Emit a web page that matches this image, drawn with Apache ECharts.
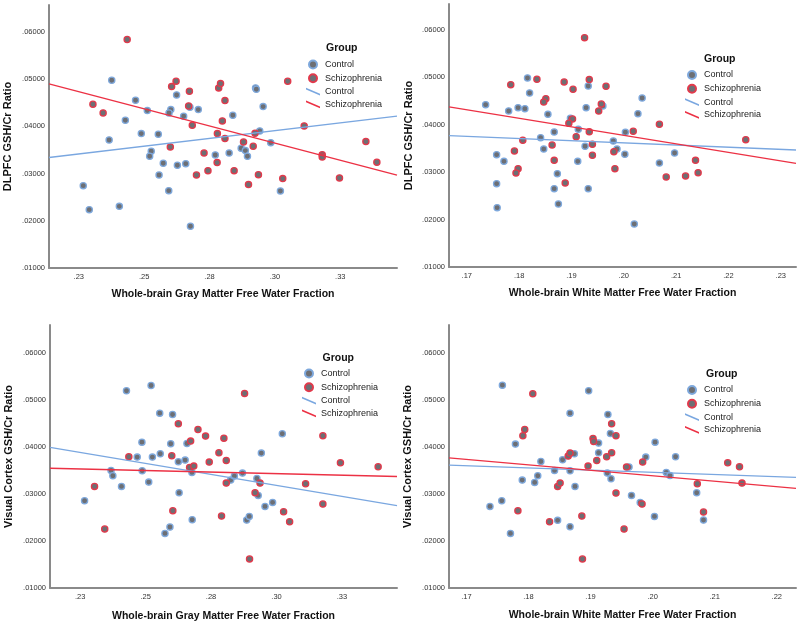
<!DOCTYPE html>
<html><head><meta charset="utf-8">
<script src="https://cdn.jsdelivr.net/npm/echarts@6/dist/echarts.min.js"></script>
<style>html,body{margin:0;padding:0;background:#fff}#c{width:800px;height:624px}</style>
</head><body><div id="c"></div>
<script>
// ---- Tick values and labels ----
const gmTicks = [0.225, 0.25, 0.275, 0.30, 0.325];
const gmTickLabels = ['.23', '.25', '.28', '.30', '.33'];
const wmTicksTop = [0.17, 0.18, 0.19, 0.20, 0.21, 0.22, 0.23];
const wmTickLabelsTop = ['.17', '.18', '.19', '.20', '.21', '.22', '.23'];
const wmTicksBottom = [0.17, 0.18, 0.19, 0.20, 0.21, 0.22];
const wmTickLabelsBottom = ['.17', '.18', '.19', '.20', '.21', '.22'];
const yTicks = [0.01, 0.02, 0.03, 0.04, 0.05, 0.06];
const yTickLabels = ['.01000', '.02000', '.03000', '.04000', '.05000', '.06000'];
const groupNames = ['Control', 'Schizophrenia'];

// ---- Panel 1: Gray matter FW vs DLPFC GSH/Cr ----
const p1Control = [[0.2267,0.02744],[0.2290,0.02236],[0.2376,0.04976],[0.2366,0.03712],[0.2428,0.04129],[0.2405,0.02306],[0.2467,0.04552],[0.2512,0.04333],[0.2489,0.03846],[0.2527,0.03472],[0.2521,0.03366],[0.2554,0.03832],[0.2557,0.0297],[0.2573,0.03218],[0.2594,0.02638],[0.2602,0.04355],[0.2595,0.04284],[0.2624,0.04665],[0.2627,0.03175],[0.2651,0.04213],[0.2659,0.0321],[0.2677,0.01883],[0.2675,0.04404],[0.2707,0.04355],[0.2772,0.03394],[0.2825,0.03436],[0.2839,0.04234],[0.2871,0.03535],[0.2887,0.03486],[0.2895,0.03366],[0.2926,0.04814],[0.2929,0.04785],[0.2942,0.03903],[0.2955,0.04418],[0.2984,0.03655],[0.3021,0.02631]];
const p1Schizo = [[0.2435,0.05838],[0.2304,0.04468],[0.2343,0.04284],[0.2600,0.03564],[0.2605,0.04842],[0.2622,0.04955],[0.2673,0.04743],[0.2670,0.04432],[0.2684,0.04023],[0.2700,0.0297],[0.2729,0.03436],[0.2744,0.03062],[0.2780,0.03846],[0.2779,0.03232],[0.2785,0.04814],[0.2792,0.04905],[0.2799,0.04114],[0.2809,0.04545],[0.2809,0.0374],[0.2844,0.03062],[0.2880,0.03669],[0.2899,0.02766],[0.2917,0.03578],[0.2924,0.03853],[0.2937,0.02977],[0.3030,0.02893],[0.3049,0.04955],[0.3112,0.04008],[0.3181,0.03401],[0.3181,0.03352],[0.3247,0.02907],[0.3348,0.03677],[0.3390,0.03239]];

// ---- Panel 2: White matter FW vs DLPFC GSH/Cr ----
const p2Control = [[0.1736,0.0442],[0.1757,0.03367],[0.1757,0.02756],[0.1758,0.0225],[0.1771,0.03226],[0.1780,0.04287],[0.1798,0.04357],[0.1811,0.04336],[0.1816,0.04982],[0.1820,0.04666],[0.1855,0.04216],[0.1841,0.03725],[0.1847,0.03486],[0.1867,0.03844],[0.1867,0.0265],[0.1873,0.02966],[0.1875,0.02327],[0.1898,0.04132],[0.1913,0.039],[0.1912,0.03226],[0.1926,0.03542],[0.1928,0.04357],[0.1932,0.04813],[0.1932,0.0265],[0.1960,0.04392],[0.1980,0.03654],[0.1987,0.03486],[0.2002,0.03374],[0.2003,0.03837],[0.2020,0.01906],[0.2027,0.0423],[0.2035,0.0456],[0.2068,0.03191],[0.2097,0.03402]];
const p2Schizo = [[0.1925,0.05831],[0.1784,0.04841],[0.1834,0.04954],[0.1886,0.04897],[0.1934,0.04947],[0.1903,0.04743],[0.1966,0.04806],[0.1851,0.04546],[0.1847,0.04476],[0.1957,0.04434],[0.1952,0.04287],[0.1902,0.04118],[0.1895,0.04027],[0.1934,0.03851],[0.1909,0.03746],[0.1807,0.03669],[0.2018,0.03858],[0.2068,0.04006],[0.1863,0.0357],[0.1940,0.03584],[0.1791,0.03444],[0.1981,0.0343],[0.1940,0.03353],[0.1867,0.03247],[0.1798,0.03072],[0.1794,0.0298],[0.1983,0.03072],[0.1888,0.0277],[0.2081,0.02896],[0.2118,0.02917],[0.2137,0.03247],[0.2142,0.02987],[0.2233,0.03683]];

// ---- Panel 3: Gray matter FW vs Visual cortex GSH/Cr ----
const p3Control = [[0.2267,0.02858],[0.2368,0.03504],[0.2375,0.0339],[0.2408,0.03163],[0.2427,0.05199],[0.2468,0.03787],[0.2486,0.04106],[0.2487,0.03496],[0.2512,0.03255],[0.2521,0.05312],[0.2526,0.03787],[0.2554,0.04723],[0.2556,0.03858],[0.2574,0.02163],[0.2593,0.02298],[0.2596,0.04071],[0.2603,0.04695],[0.2625,0.03688],[0.2628,0.03028],[0.2651,0.03723],[0.2658,0.04078],[0.2677,0.03461],[0.2678,0.02454],[0.2825,0.03298],[0.2839,0.03383],[0.2870,0.03447],[0.2886,0.02447],[0.2896,0.02525],[0.2925,0.03333],[0.2930,0.02972],[0.2942,0.03872],[0.2956,0.02738],[0.2985,0.02823],[0.3022,0.04284]];
const p3Schizo = [[0.2305,0.03163],[0.2344,0.02255],[0.2436,0.03794],[0.2600,0.03816],[0.2604,0.02645],[0.2625,0.04496],[0.2672,0.04128],[0.2668,0.03567],[0.2684,0.03596],[0.2700,0.04376],[0.2729,0.04234],[0.2743,0.03681],[0.2780,0.03879],[0.2790,0.02532],[0.2799,0.04191],[0.2808,0.03716],[0.2808,0.03234],[0.2878,0.05142],[0.2897,0.01617],[0.2918,0.03028],[0.2937,0.03234],[0.3027,0.02624],[0.3050,0.02411],[0.3111,0.0322],[0.3177,0.04241],[0.3177,0.02787],[0.3244,0.03667],[0.3388,0.03582]];

// ---- Panel 4: White matter FW vs Visual cortex GSH/Cr ----
const p4Control = [[0.1738,0.02738],[0.1757,0.02858],[0.1758,0.05319],[0.1771,0.02163],[0.1790,0.03298],[0.1779,0.04064],[0.1810,0.03248],[0.1815,0.0339],[0.1820,0.03695],[0.1842,0.03504],[0.1847,0.0244],[0.1855,0.0373],[0.1867,0.04723],[0.1867,0.03496],[0.1867,0.02305],[0.1875,0.03163],[0.1874,0.03858],[0.1897,0.05199],[0.1913,0.04085],[0.1913,0.03879],[0.1927,0.03447],[0.1928,0.04695],[0.1932,0.04291],[0.1933,0.03326],[0.1962,0.03574],[0.1966,0.02972],[0.1980,0.02823],[0.2003,0.02525],[0.2004,0.04106],[0.1989,0.03787],[0.2022,0.03461],[0.2028,0.03397],[0.2037,0.03794],[0.2071,0.03028],[0.2082,0.02447]];
const p4Schizo = [[0.1807,0.05135],[0.1794,0.04376],[0.1791,0.04241],[0.1783,0.02645],[0.1834,0.02411],[0.1847,0.03163],[0.1851,0.03234],[0.1864,0.03809],[0.1867,0.03872],[0.1886,0.02532],[0.1887,0.01617],[0.1896,0.03596],[0.1904,0.04184],[0.1905,0.04121],[0.1910,0.03716],[0.1926,0.03794],[0.1934,0.03879],[0.1934,0.04496],[0.1941,0.04241],[0.1941,0.03021],[0.1954,0.02255],[0.1958,0.03574],[0.1984,0.03681],[0.1983,0.02787],[0.2072,0.0322],[0.2082,0.02617],[0.2121,0.03667],[0.2140,0.03582],[0.2144,0.03234]];

// ---- Styling ----
const FONT = 'Liberation Sans, Arial, sans-serif';
const C_FILL = '#6d6f74';
const C_BLUE = '#7ea8dc';
const C_RED = '#e2394b';
const L_BLUE = '#7aa7e0';
const L_RED = '#ec3144';
const SLANT = 'path://M0,0L14,6L14,7.6L0,1.6Z';

const panels = [
  {grid:{left:49, top:5, width:348, height:263}, xMin:0.2136, xMax:0.3467, yMax:0.0657,
   ticks:gmTicks, tickLabels:gmTickLabels, ctrl:p1Control, scz:p1Schizo,
   xName:'Whole-brain Gray Matter Free Water Fraction', yName:'DLPFC GSH/Cr Ratio',
   xGap:21, yGap:36, groupPos:[326,43], legendPos:[306,59.5]},
  {grid:{left:449, top:4, width:347, height:263}, xMin:0.1666, xMax:0.2329, yMax:0.0654,
   ticks:wmTicksTop, tickLabels:wmTickLabelsTop, ctrl:p2Control, scz:p2Schizo,
   xName:'Whole-brain White Matter Free Water Fraction', yName:'DLPFC GSH/Cr Ratio',
   xGap:21, yGap:35, groupPos:[704,54], legendPos:[685,70]},
  {grid:{left:50, top:325, width:347, height:263}, xMin:0.2135, xMax:0.346, yMax:0.066,
   ticks:gmTicks, tickLabels:gmTickLabels, ctrl:p3Control, scz:p3Schizo,
   xName:'Whole-brain Gray Matter Free Water Fraction', yName:'Visual Cortex GSH/Cr Ratio',
   xGap:23, yGap:36, groupPos:[322.5,352.5], legendPos:[302,368.5]},
  {grid:{left:449, top:325, width:347, height:263}, xMin:0.1672, xMax:0.2231, yMax:0.066,
   ticks:wmTicksBottom, tickLabels:wmTickLabelsBottom, ctrl:p4Control, scz:p4Schizo,
   xName:'Whole-brain White Matter Free Water Fraction', yName:'Visual Cortex GSH/Cr Ratio',
   xGap:22, yGap:36, groupPos:[706,368.5], legendPos:[685,385]}
];

function fitLine(pts, x0, x1) {
  const n = pts.length;
  let sx = 0, sy = 0, sxx = 0, sxy = 0;
  pts.forEach(p => { sx += p[0]; sy += p[1]; sxx += p[0]*p[0]; sxy += p[0]*p[1]; });
  const b = (n*sxy - sx*sy) / (n*sxx - sx*sx);
  const a = (sy - b*sx) / n;
  return [[x0, a + b*x0], [x1, a + b*x1]];
}
function labelFor(ticks, labels) {
  return function (v) {
    let best = 0;
    for (let i = 1; i < ticks.length; i++) if (Math.abs(ticks[i]-v) < Math.abs(ticks[best]-v)) best = i;
    return labels[best];
  };
}

const option = {
  animation: false,
  backgroundColor: '#ffffff',
  textStyle: {fontFamily: FONT},
  grid: [], xAxis: [], yAxis: [], series: [], legend: [], title: []
};

panels.forEach((p, i) => {
  option.grid.push(Object.assign({containLabel:false}, p.grid));
  option.xAxis.push({
    gridIndex:i, type:'value', min:p.xMin, max:p.xMax,
    axisLine:{show:true, onZero:false, lineStyle:{color:'#8a8a8a', width:2}},
    axisTick:{show:false}, splitLine:{show:false},
    axisLabel:{customValues:p.ticks, formatter:labelFor(p.ticks, p.tickLabels), fontSize:7.5, color:'#333', margin:5, fontFamily:FONT},
    name:p.xName, nameLocation:'middle', nameGap:p.xGap,
    nameTextStyle:{fontWeight:'bold', fontSize:10.5, color:'#111', fontFamily:FONT}
  });
  option.yAxis.push({
    gridIndex:i, type:'value', min:0.01, max:p.yMax,
    axisLine:{show:true, onZero:false, lineStyle:{color:'#8a8a8a', width:2}},
    axisTick:{show:false}, splitLine:{show:false},
    axisLabel:{customValues:yTicks, formatter:labelFor(yTicks, yTickLabels), fontSize:7.5, color:'#333', margin:4, fontFamily:FONT},
    name:p.yName, nameLocation:'middle', nameGap:p.yGap,
    nameTextStyle:{fontWeight:'bold', fontSize:11, color:'#111', fontFamily:FONT}
  });
  option.series.push(
    {name:groupNames[0], type:'scatter', xAxisIndex:i, yAxisIndex:i, data:p.ctrl, symbolSize:6.2,
     itemStyle:{color:C_FILL, borderColor:C_BLUE, borderWidth:1.3, opacity:1}, z:3},
    {name:groupNames[1], type:'scatter', xAxisIndex:i, yAxisIndex:i, data:p.scz, symbolSize:6.2,
     itemStyle:{color:C_FILL, borderColor:C_RED, borderWidth:1.3, opacity:1}, z:3},
    {name:groupNames[0]+' fit', type:'line', xAxisIndex:i, yAxisIndex:i, data:fitLine(p.ctrl, p.xMin, p.xMax),
     symbol:'none', color:L_BLUE, itemStyle:{color:L_BLUE}, lineStyle:{color:L_BLUE, width:1.3}, z:4, silent:true},
    {name:groupNames[1]+' fit', type:'line', xAxisIndex:i, yAxisIndex:i, data:fitLine(p.scz, p.xMin, p.xMax),
     symbol:'none', color:L_RED, itemStyle:{color:L_RED}, lineStyle:{color:L_RED, width:1.3}, z:4, silent:true}
  );
  option.title.push({text:'Group', left:p.groupPos[0], top:p.groupPos[1], padding:0,
    textStyle:{fontSize:10.5, fontWeight:'bold', color:'#111', fontFamily:FONT}});
  option.legend.push({
    left:p.legendPos[0], top:p.legendPos[1], padding:0, orient:'vertical',
    itemWidth:14, itemHeight:8, itemGap:3.8, selectedMode:false,
    data:[{name:groupNames[0], icon:'circle'}, {name:groupNames[1], icon:'circle'},
          {name:groupNames[0]+' fit', icon:SLANT, itemStyle:{color:L_BLUE, borderWidth:0}},
          {name:groupNames[1]+' fit', icon:SLANT, itemStyle:{color:L_RED, borderWidth:0}}],
    formatter: n => n.replace(' fit', ''),
    textStyle:{fontSize:9, color:'#222', fontFamily:FONT}
  });
});

const chart = echarts.init(document.getElementById('c'), null, {renderer:'canvas'});
chart.setOption(option);
</script>
</body></html>
